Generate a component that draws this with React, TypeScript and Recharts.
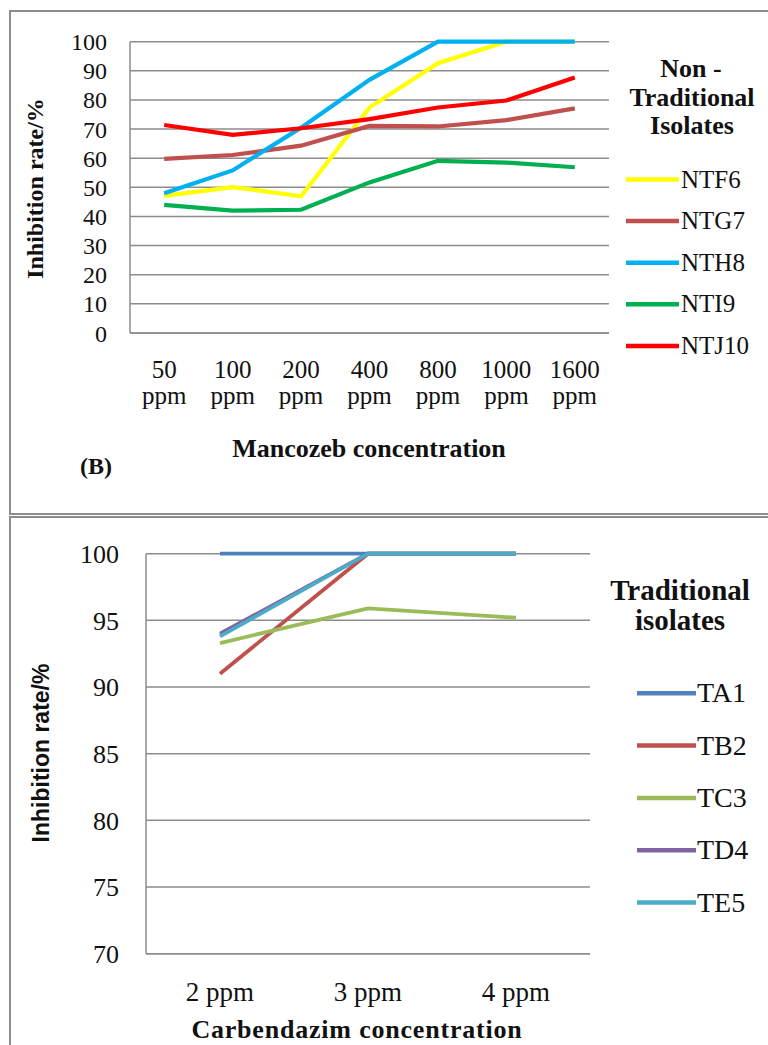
import React from 'react';
import { LineChart, Line, XAxis, YAxis, CartesianGrid } from 'recharts';

// ---- Panel B: Mancozeb (non-traditional isolates) ----
const mancozebCategories = ['50 ppm', '100 ppm', '200 ppm', '400 ppm', '800 ppm', '1000 ppm', '1600 ppm'];
const ntf6 = [47.1, 50.1, 46.9, 77.4, 92.6, 100, 100];
const ntg7 = [59.8, 61.1, 64.3, 71.1, 70.9, 73.1, 77.1];
const nth8 = [48.0, 55.8, 70.5, 86.9, 100, 100, 100];
const nti9 = [44.0, 42.0, 42.3, 51.7, 59.1, 58.5, 56.9];
const ntj10 = [71.4, 68.0, 70.3, 73.4, 77.4, 79.8, 87.7];
const mancozebTicks = [0, 10, 20, 30, 40, 50, 60, 70, 80, 90, 100];

// ---- Carbendazim (traditional isolates) ----
const carbendazimCategories = ['2 ppm', '3 ppm', '4 ppm'];
const ta1 = [100, 100, 100];
const tb2 = [91.0, 100, 100];
const tc3 = [93.3, 95.9, 95.2];
const td4 = [94.0, 100, 100];
const te5 = [93.8, 100, 100];
const carbendazimTicks = [70, 75, 80, 85, 90, 95, 100];

const topSeries = [
  { key: 'NTF6', values: ntf6, color: '#FFFF00' },
  { key: 'NTG7', values: ntg7, color: '#C0504D' },
  { key: 'NTH8', values: nth8, color: '#00B0F0' },
  { key: 'NTI9', values: nti9, color: '#00B050' },
  { key: 'NTJ10', values: ntj10, color: '#FF0000' },
];
const bottomSeries = [
  { key: 'TA1', values: ta1, color: '#4F81BD' },
  { key: 'TB2', values: tb2, color: '#C0504D' },
  { key: 'TC3', values: tc3, color: '#9BBB59' },
  { key: 'TD4', values: td4, color: '#8064A2' },
  { key: 'TE5', values: te5, color: '#4BACC6' },
];

const topData = mancozebCategories.map((c, i) => {
  const row: any = { name: c };
  topSeries.forEach((s) => (row[s.key] = s.values[i]));
  return row;
});
const bottomData = carbendazimCategories.map((c, i) => {
  const row: any = { name: c };
  bottomSeries.forEach((s) => (row[s.key] = s.values[i]));
  return row;
});

const SERIF = '"Liberation Serif", "Times New Roman", Times, Tinos, "DejaVu Serif", serif';
const SANS = '"Liberation Sans", "DejaVu Sans", sans-serif';
const GRID = '#8c8c8c';
const INK = '#111';

const TwoLineTick = (props: any) => {
  const { x, y, payload } = props;
  const parts = String(payload.value).split(' ');
  return (
    <text x={x} y={y} textAnchor="middle" style={{ fontFamily: SERIF, fontSize: 25 }} fill={INK}>
      <tspan x={x} dy={45}>{parts[0]}</tspan>
      <tspan x={x} dy={26}>{parts[1]}</tspan>
    </text>
  );
};

const OneLineTick = (props: any) => {
  const { x, y, payload } = props;
  return (
    <text x={x} y={y + 47} textAnchor="middle" style={{ fontFamily: SERIF, fontSize: 27 }} fill={INK}>
      {payload.value}
    </text>
  );
};

const serifBold = (size: number) => ({ fontFamily: SERIF, fontWeight: 'bold' as const, fontSize: size });

export default function App() {
  return (
    <div style={{ position: 'absolute', left: 0, top: 0, width: 768, height: 1045, overflow: 'hidden', background: '#fff', fontFamily: SERIF }}>
      {/* panel borders */}
      <div style={{ position: 'absolute', left: 9, top: 10, width: 800, height: 501, border: `2px solid ${GRID}` }} />
      <div style={{ position: 'absolute', left: 9, top: 516, width: 800, height: 600, border: `2px solid ${GRID}` }} />

      {/* top chart */}
      <div style={{ position: 'absolute', left: 0, top: 0 }}>
        <LineChart width={768} height={520} data={topData} margin={{ top: 41.7, right: 159, bottom: 127, left: 70 }}>
          <CartesianGrid vertical={false} stroke={GRID} strokeWidth={1.5} />
          <XAxis dataKey="name" padding={{ left: 34.2, right: 34.2 }} axisLine={{ stroke: GRID, strokeWidth: 1.5 }} tickLine={false} tickSize={0} tickMargin={0} height={60} interval={0} tick={<TwoLineTick />} />
          <YAxis domain={[0, 100]} ticks={mancozebTicks} width={60} axisLine={{ stroke: GRID, strokeWidth: 1.5 }} tickLine={false} tickSize={0} tickMargin={23} interval={0} tick={{ style: { fontFamily: SERIF, fontSize: 24 }, fill: INK }} />
          {topSeries.map((s) => (
            <Line key={s.key} dataKey={s.key} stroke={s.color} strokeWidth={4.2} dot={false} isAnimationActive={false} type="linear" />
          ))}
        </LineChart>
      </div>

      {/* bottom chart */}
      <div style={{ position: 'absolute', left: 0, top: 510 }}>
        <LineChart width={768} height={535} data={bottomData} margin={{ top: 43.7, right: 178, bottom: 31.3, left: 86 }}>
          <CartesianGrid vertical={false} stroke={GRID} strokeWidth={1.5} />
          <XAxis dataKey="name" padding={{ left: 74, right: 74 }} axisLine={{ stroke: GRID, strokeWidth: 1.5 }} tickLine={false} tickSize={0} tickMargin={0} height={60} interval={0} tick={<OneLineTick />} />
          <YAxis domain={[70, 100]} ticks={carbendazimTicks} width={60} axisLine={{ stroke: GRID, strokeWidth: 1.5 }} tickLine={false} tickSize={0} tickMargin={27} interval={0} tick={{ style: { fontFamily: SERIF, fontSize: 26 }, fill: INK }} />
          {bottomSeries.map((s) => (
            <Line key={s.key} dataKey={s.key} stroke={s.color} strokeWidth={3.8} dot={false} isAnimationActive={false} type="linear" />
          ))}
        </LineChart>
      </div>

      {/* titles & legends */}
      <svg width={768} height={1045} style={{ position: 'absolute', left: 0, top: 0, pointerEvents: 'none' }}>
        {/* top */}
        <text transform="translate(43,188.5) rotate(-90)" textAnchor="middle" style={serifBold(24)} fill={INK}>Inhibition rate/%</text>
        <text x={369} y={457} textAnchor="middle" style={serifBold(26)} fill={INK}>Mancozeb concentration</text>
        <text x={80} y={474} style={serifBold(24)} fill={INK}>(B)</text>
        <text textAnchor="middle" style={serifBold(26)} fill={INK}>
          <tspan x={691} y={77}>Non -</tspan>
          <tspan x={692} y={106}>Traditional</tspan>
          <tspan x={692} y={134}>Isolates</tspan>
        </text>
        {topSeries.map((s, i) => {
          const y = 179.5 + i * 41.6;
          return (
            <g key={s.key}>
              <line x1={626} x2={679} y1={y} y2={y} stroke={s.color} strokeWidth={4.5} />
              <text x={681} y={y + 8} style={{ fontFamily: SERIF, fontSize: 25 }} fill={INK}>{s.key}</text>
            </g>
          );
        })}

        {/* bottom */}
        <text transform="translate(49,753) rotate(-90)" textAnchor="middle" style={{ fontFamily: SANS, fontWeight: 'bold', fontSize: 23 }} fill={INK}>Inhibition rate/%</text>
        <text x={357} y={1038} textAnchor="middle" style={{ ...serifBold(26), letterSpacing: 0.8 }} fill={INK}>Carbendazim concentration</text>
        <text textAnchor="middle" style={serifBold(29)} fill={INK}>
          <tspan x={680} y={600}>Traditional</tspan>
          <tspan x={680} y={630}>isolates</tspan>
        </text>
        {bottomSeries.map((s, i) => {
          const y = 693.3 + i * 52.3;
          return (
            <g key={s.key}>
              <line x1={637} x2={696} y1={y} y2={y} stroke={s.color} strokeWidth={4.5} />
              <text x={697} y={y + 9} style={{ fontFamily: SERIF, fontSize: 28 }} fill={INK}>{s.key}</text>
            </g>
          );
        })}
      </svg>
    </div>
  );
}
